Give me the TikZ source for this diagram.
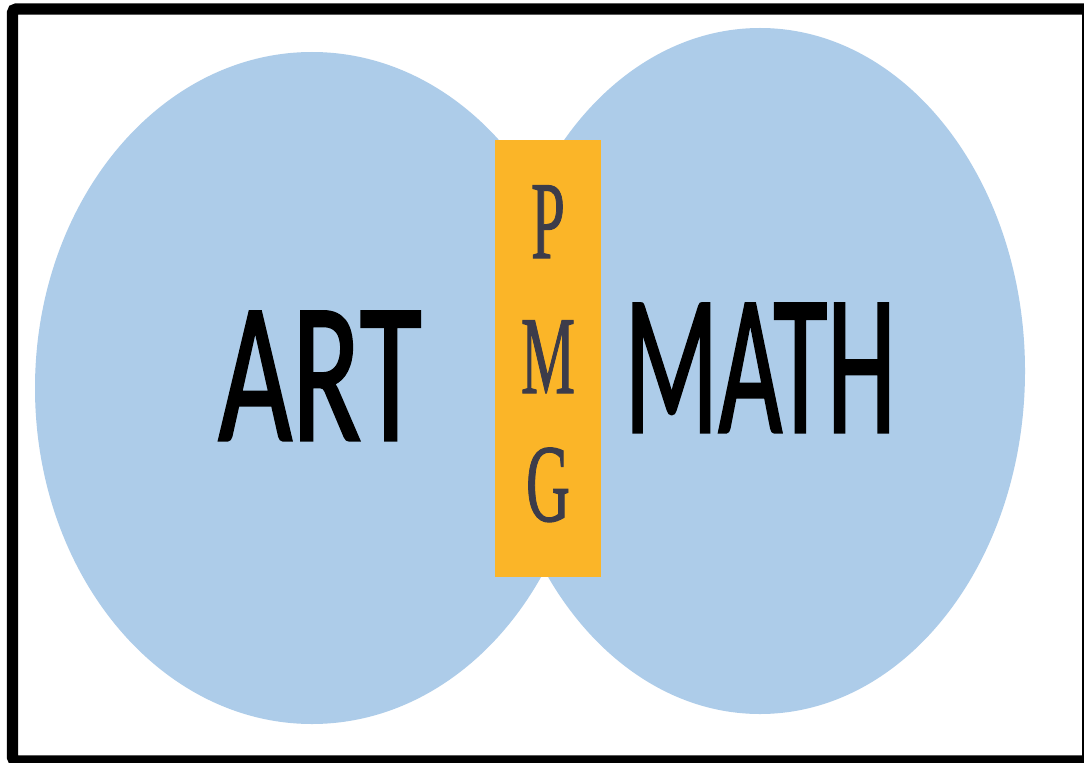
\documentclass[tikz,border=0pt]{standalone}
\usepackage{fontspec}
\usepackage{graphicx}
\setmainfont{Liberation Serif}
\newfontfamily\artfont{Carlito}[FakeBold=1.6]
\newfontfamily\pmgfont{Liberation Serif}[FakeBold=1.2]
\definecolor{circblue}{RGB}{173,204,233}
\definecolor{barorange}{RGB}{251,181,40}
\definecolor{lettergray}{RGB}{60,60,74}
\tikzset{
  bigword/.style={text=black, inner sep=0pt, anchor=base, font=\artfont\fontsize{150}{150}\selectfont},
  pmgletter/.style={text=lettergray, inner sep=0pt, anchor=base, font=\pmgfont\fontsize{83}{83}\selectfont},
  framebox/.style={draw=black, line width=8.6pt, rounded corners=3pt}
}
\begin{document}
\begin{tikzpicture}[x=0.75pt,y=-0.75pt]
\useasboundingbox (0,0) rectangle (1084,763);
\fill[white] (0,0) rectangle (1084,763);
\fill[circblue] (312,388) ellipse [x radius=277, y radius=336];
\fill[circblue] (760,371) ellipse [x radius=265, y radius=343];
\node[fill=barorange, minimum width=79.5pt, minimum height=327.75pt, inner sep=0pt] (bar) at (548,358.5) {};
\node[pmgletter] (p) at (548,258) {\scalebox{0.55}[1]{P}};
\node[pmgletter] (m) at (548,393) {\scalebox{0.55}[1]{M}};
\node[pmgletter] (g) at (548,521) {\scalebox{0.55}[1]{G}};
\node[bigword] (art) at (320,440) {\scalebox{0.635}[1]{ART}};
\node[bigword] (math) at (760,432) {\scalebox{0.55}[1]{MATH}};
\begin{scope}
\clip (0,0) rectangle (1084,763);
\draw[framebox] (12.5,9) rectangle (1095,761);
\draw[black, line width=1.5pt] (1083,9) -- (1083,761);
\end{scope}
\end{tikzpicture}
\end{document}
